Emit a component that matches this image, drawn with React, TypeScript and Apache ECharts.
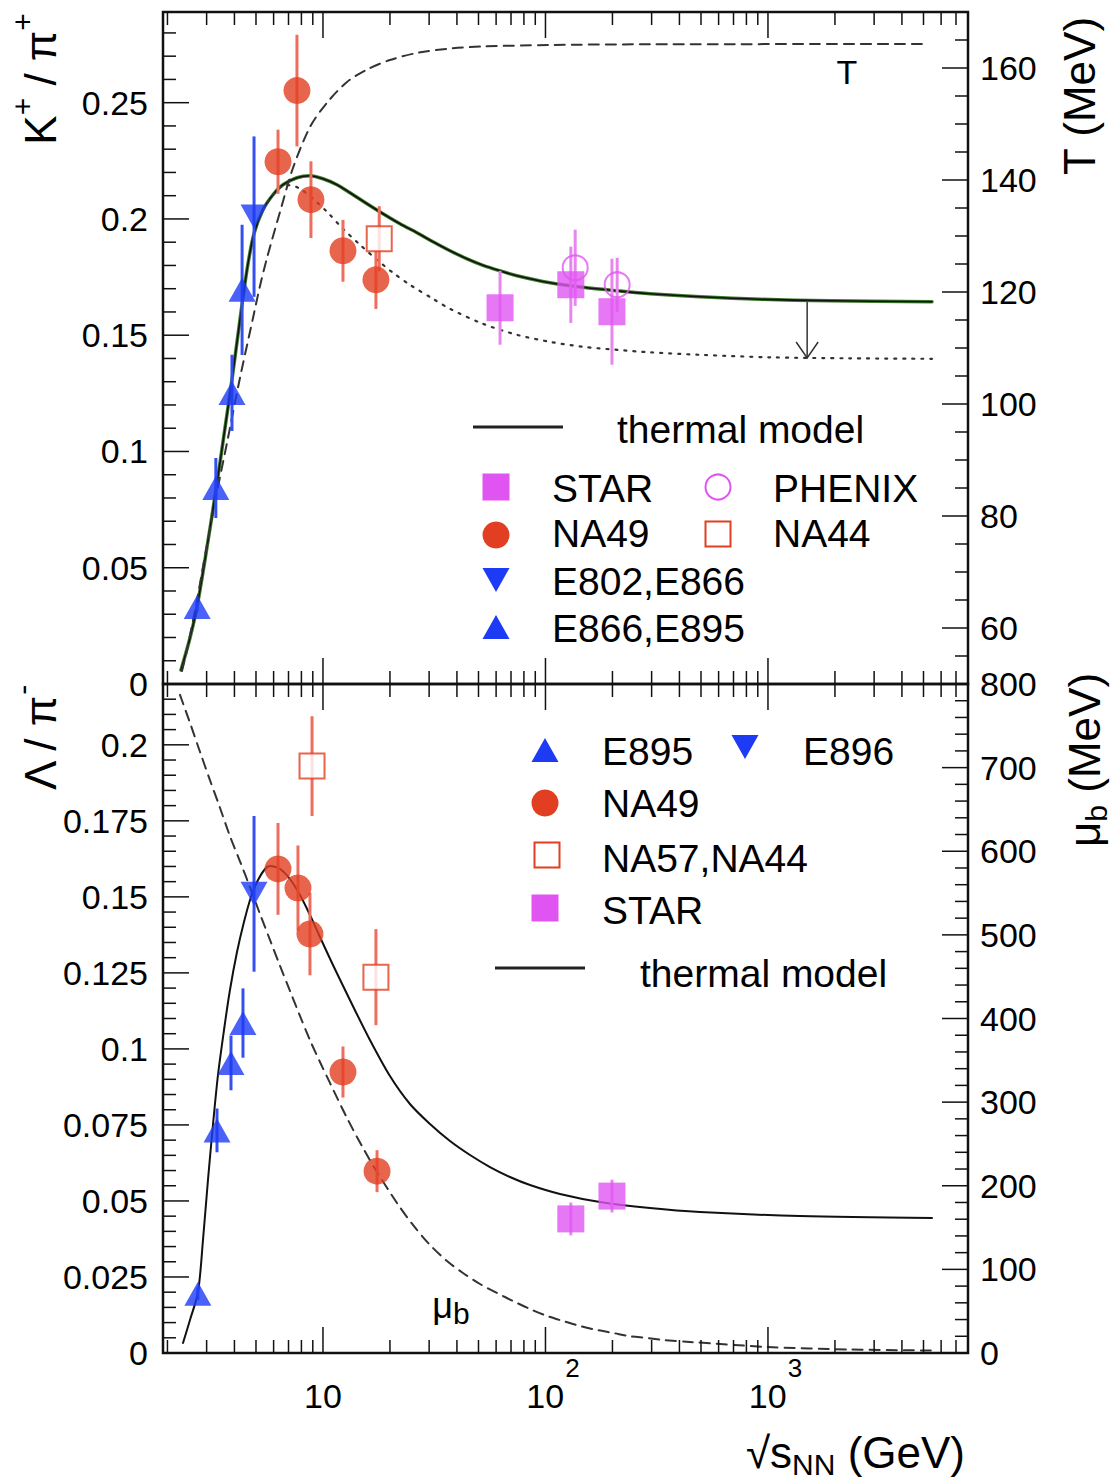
import React, { useEffect, useRef } from 'react';
import * as echarts from 'echarts';

const FONT = '"Liberation Sans", Arial, Helvetica, sans-serif';

// ================= TOP PANEL : K+/pi+ =================
const kE895X = [2.72, 3.3, 3.9, 4.33];
const kE895Y = [0.0331, 0.0843, 0.1252, 0.1695];
const kE895Err = [0.002, 0.0129, 0.0164, 0.028];

const kE802X = [4.9];
const kE802Y = [0.201];
const kE802Err = [0.0345];

const kNA49X = [6.28, 7.64, 8.83, 12.3, 17.3];
const kNA49Y = [0.2246, 0.2552, 0.2083, 0.1863, 0.1738];
const kNA49Err = [0.0138, 0.024, 0.0165, 0.0133, 0.0125];

const kNA44X = [17.9];
const kNA44Y = [0.1915];
const kNA44Err = [0.014];

const kSTARX = [62.5, 130, 199];
const kSTARY = [0.1618, 0.1717, 0.1601];
const kSTARErr = [0.0159, 0.0164, 0.0228];

const kPHENIXX = [136, 210];
const kPHENIXY = [0.179, 0.1717];
const kPHENIXErr = [0.0164, 0.0116];

// thermal model K+/pi+ (solid)
const thermalKX = [2.301, 2.525, 2.715, 2.949, 3.304, 3.591, 3.899, 4.325, 4.602, 4.897, 5.375, 5.962, 6.61, 7.64, 8.743, 10, 11.56, 13.22, 15.77, 18.61, 22.19, 26.45, 31.22, 37.23, 44.39, 52.38, 62.45, 74.46, 104.8, 147.4, 209.6, 294.9, 494.9, 920.4, 1900, 5460];
const thermalKY = [0.00602, 0.01979, 0.03313, 0.05336, 0.08348, 0.10714, 0.13081, 0.16308, 0.18072, 0.19363, 0.20396, 0.21041, 0.21471, 0.21773, 0.21859, 0.2173, 0.21472, 0.21127, 0.20654, 0.20224, 0.19793, 0.19406, 0.19019, 0.18632, 0.18287, 0.18007, 0.17771, 0.17556, 0.17255, 0.17062, 0.1691, 0.16781, 0.16652, 0.16545, 0.16481, 0.16437];

// dotted variant (lower asymptote)
const dottedKX = [5.375, 5.962, 6.61, 7.108, 7.883, 9.018, 10.42, 12.3, 14.67, 17.49, 20.64, 24.6, 31.22, 37.23, 52.38, 74.46, 104.8, 147.4, 209.6, 294.9, 494.9, 1021, 2336, 5460];
const dottedKY = [0.20396, 0.21041, 0.21428, 0.2145, 0.21299, 0.20869, 0.2031, 0.19578, 0.1889, 0.18244, 0.17685, 0.17169, 0.16566, 0.16136, 0.15491, 0.15017, 0.14716, 0.14501, 0.14372, 0.14264, 0.14157, 0.14049, 0.14006, 0.13985];

// temperature T (MeV), right axis, dashed
const tempX = [2.325, 2.448, 2.715, 3.01, 3.339, 3.703, 4.236, 4.848, 5.211, 5.603, 6.409, 7.331, 8.743, 10.42, 12.82, 15.77, 20, 26.45, 37.23, 52.38, 104.8, 294.9, 5184];
const tempY = [52.32, 56.07, 65, 74.82, 84.29, 93.04, 104.64, 115.36, 121.07, 126.07, 134.29, 142.14, 149.46, 153.79, 157.5, 159.73, 161.43, 162.68, 163.48, 163.84, 164.11, 164.23, 164.29];

// arrow from solid to dotted asymptote
const arrowX = [1500];
const arrowFrom = [0.1648];
const arrowTo = [0.1402];

// ================= BOTTOM PANEL : Lambda/pi- =================
const lE895X = [2.74, 3.34, 3.86, 4.37];
const lE895Y = [0.0195, 0.0732, 0.0954, 0.1085];
const lE895Err = [0.002, 0.0072, 0.009, 0.0114];

const lE896X = [4.9];
const lE896Y = [0.151];
const lE896Err = [0.0256];

const lNA49X = [6.28, 7.72, 8.74, 12.3, 17.5];
const lNA49Y = [0.1592, 0.1529, 0.1378, 0.0924, 0.0598];
const lNA49Err = [0.0151, 0.014, 0.0136, 0.0084, 0.0069];

const lNA57X = [8.93, 17.3];
const lNA57Y = [0.193, 0.1236];
const lNA57Err = [0.0164, 0.0158];

const lSTARX = [130, 199];
const lSTARY = [0.0441, 0.0516];
const lSTARErr = [0.0054, 0.0054];

const thermalLX = [2.349, 2.525, 2.744, 2.889, 3.042, 3.203, 3.374, 3.591, 3.819, 4.108, 4.415, 4.747, 5.105, 5.488, 5.779, 6.409, 7.108, 7.883, 8.743, 9.694, 11.09, 13.22, 16.26, 20, 24.6, 30.27, 37.23, 45.8, 56.32, 69.25, 85.2, 116.2, 175.8, 294.9, 494.9, 1392, 5460];
const thermalLY = [0.00329, 0.01085, 0.02006, 0.03716, 0.05689, 0.07498, 0.09142, 0.10622, 0.11937, 0.13186, 0.14173, 0.14995, 0.15554, 0.15916, 0.16014, 0.15916, 0.15587, 0.15061, 0.14403, 0.1368, 0.12759, 0.11608, 0.10293, 0.09109, 0.08188, 0.0753, 0.06971, 0.06511, 0.06116, 0.05788, 0.05524, 0.05229, 0.04965, 0.04768, 0.04637, 0.04505, 0.04439];

// baryon chemical potential mu_b (MeV), right axis, dashed
const muX = [2.277, 2.525, 2.8, 3.105, 3.444, 3.819, 4.236, 4.698, 5.211, 5.779, 6.409, 7.108, 7.883, 8.743, 9.694, 10.75, 12.82, 15.13, 17.49, 21.51, 25.38, 30.27, 36.08, 42.58, 50.77, 60.53, 71.44, 85.2, 101.6, 119.8, 142.9, 170.4, 201.1, 239.8, 285.9, 337.5, 446, 1000, 2336, 5460];
const muY = [787, 753.6, 719, 685, 652, 618, 588, 557, 525, 494, 463, 433, 403, 374, 348, 323, 281.1, 245.2, 216.5, 179.4, 153.1, 129.2, 110, 95.7, 82.5, 71.8, 62.2, 52.6, 44.3, 38.3, 32.3, 27.5, 24, 20, 18, 15.6, 13.2, 7.2, 4.2, 3.0];

// ================= AXES =================
const X_MIN = 1.91;
const X_MAX = 7925;
const K_MAX = 0.289;
const T_MIN = 50;
const T_MAX = 170;
const L_MAX = 0.22;
const MU_MAX = 800;

const xMajorTicks = [10, 100, 1000];
const xMinorMult = [2, 3, 4, 5, 6, 7, 8, 9];
const xDecades = [1, 10, 100, 1000];

// colours
const BLUE = '#1d3bf5';
const BLUE_ERR = '#3550f2';
const RED = '#e23e21';
const RED_ERR = '#ee6e5e';
const MAG = '#e055f2';
const MAG_ERR = '#e886f0';

function stepVals(from: number, to: number, step: number) {
  const out: number[] = [];
  const n = Math.round((to - from) / step);
  for (let i = 0; i <= n; i++) out.push(+(from + i * step).toFixed(6));
  return out;
}
function without(vals: number[], majors: number[]) {
  return vals.filter((v) => !majors.some((m) => Math.abs(m - v) < 1e-9));
}

const MAJ = 26;
const MIN = 13;

function xTickData(yMid: number) {
  const minors: number[] = [];
  xDecades.forEach((d) => xMinorMult.forEach((m) => {
    const v = m * d;
    if (v > X_MIN && v < X_MAX) minors.push(v);
  }));
  return [
    ...xMajorTicks.map((v) => [v, yMid, MAJ, 0]),
    ...minors.map((v) => [v, yMid, MIN, 0]),
  ];
}
function yTickData(majors: number[], minors: number[], kind: number) {
  return [
    ...majors.map((v) => [10, v, MAJ, kind]),
    ...minors.map((v) => [10, v, MIN, kind]),
  ];
}

const tickRender = (params: any, api: any) => {
  const cs = params.coordSys;
  const kind = api.value(3);
  const len = api.value(2);
  const p = api.coord([api.value(0), api.value(1)]);
  const st = { stroke: '#111', lineWidth: 1.5 };
  if (kind === 0) {
    return {
      type: 'group',
      children: [
        { type: 'line', shape: { x1: p[0], y1: cs.y, x2: p[0], y2: cs.y + len }, style: st },
        { type: 'line', shape: { x1: p[0], y1: cs.y + cs.height, x2: p[0], y2: cs.y + cs.height - len }, style: st },
      ],
    };
  }
  if (kind === 1) {
    return { type: 'line', shape: { x1: cs.x, y1: p[1], x2: cs.x + len, y2: p[1] }, style: st };
  }
  return { type: 'line', shape: { x1: cs.x + cs.width, y1: p[1], x2: cs.x + cs.width - len, y2: p[1] }, style: st };
};

function tickSeries(xi: number, yi: number, data: any[]) {
  return {
    type: 'custom', xAxisIndex: xi, yAxisIndex: yi, silent: true, z: 6, clip: false,
    data, encode: { x: 0, y: 1 }, renderItem: tickRender,
  };
}

function lineSeries(xs: number[], ys: number[], xi: number, yi: number, color: string, width: number, type: any, z: number) {
  return {
    type: 'line', xAxisIndex: xi, yAxisIndex: yi, silent: true, z,
    data: xs.map((x, i) => [x, ys[i]]),
    symbol: 'none', showSymbol: false, smooth: 0.3,
    lineStyle: { color, width, type, cap: 'round', join: 'round' },
  };
}

function errSeries(xs: number[], ys: number[], es: number[], xi: number, yi: number, color: string) {
  return {
    type: 'custom', xAxisIndex: xi, yAxisIndex: yi, silent: true, z: 3,
    data: xs.map((x, i) => [x, ys[i], es[i]]),
    encode: { x: 0, y: 1 },
    renderItem: (params: any, api: any) => {
      const x = api.value(0);
      const y = api.value(1);
      const e = api.value(2);
      const a = api.coord([x, y + e]);
      const b = api.coord([x, y - e]);
      return { type: 'line', shape: { x1: a[0], y1: a[1], x2: b[0], y2: b[1] }, style: { stroke: color, lineWidth: 3 } };
    },
  };
}

function markSeries(xs: number[], ys: number[], xi: number, yi: number, symbol: string, itemStyle: any, extra: any = {}) {
  return {
    type: 'scatter', xAxisIndex: xi, yAxisIndex: yi, silent: true, z: 4,
    data: xs.map((x, i) => [x, ys[i]]),
    symbol, symbolSize: 27, itemStyle, ...extra,
  };
}

// ---------- graphic helpers ----------
function txt(x: number, y: number, text: string, size: number, align = 'left') {
  return { type: 'text', x, y, z: 10, style: { text, fontSize: size, fontFamily: FONT, fill: '#000', align, verticalAlign: 'middle' } };
}
function upTri(cx: number, cy: number, color: string) {
  return { type: 'polygon', z: 10, shape: { points: [[cx - 13.5, cy + 12], [cx + 13.5, cy + 12], [cx, cy - 12]] }, style: { fill: color } };
}
function downTri(cx: number, cy: number, color: string) {
  return { type: 'polygon', z: 10, shape: { points: [[cx - 13.5, cy - 12], [cx + 13.5, cy - 12], [cx, cy + 12]] }, style: { fill: color } };
}
function fSquare(cx: number, cy: number, color: string) {
  return { type: 'rect', z: 10, shape: { x: cx - 13.5, y: cy - 13.5, width: 27, height: 27 }, style: { fill: color } };
}
function oSquare(cx: number, cy: number, color: string) {
  return { type: 'rect', z: 10, shape: { x: cx - 12.5, y: cy - 12.5, width: 25, height: 25 }, style: { fill: 'none', stroke: color, lineWidth: 2 } };
}
function fCircle(cx: number, cy: number, color: string) {
  return { type: 'circle', z: 10, shape: { cx, cy, r: 13.5 }, style: { fill: color } };
}
function oCircle(cx: number, cy: number, color: string) {
  return { type: 'circle', z: 10, shape: { cx, cy, r: 12.5 }, style: { fill: 'none', stroke: color, lineWidth: 2 } };
}
function hline(x1: number, x2: number, y: number) {
  return { type: 'line', z: 10, shape: { x1, y1: y, x2, y2: y }, style: { stroke: '#222', lineWidth: 3 } };
}

const titleRich = {
  b: { fontSize: 44, fontFamily: FONT, fill: '#000', padding: [11, 0, 0, 0] },
  s: { fontSize: 30, fontFamily: FONT, fill: '#000', verticalAlign: 'top' },
  sb: { fontSize: 30, fontFamily: FONT, fill: '#000', verticalAlign: 'bottom', padding: [24, 0, 0, 0] },
  m: { fontSize: 44, fontFamily: FONT, fill: '#000' },
};

function buildOption() {
  const baseX = {
    type: 'log', logBase: 10, min: X_MIN, max: X_MAX,
    axisLine: { show: false }, axisTick: { show: false }, splitLine: { show: false }, minorTick: { show: false },
  };
  const labelBase = { fontFamily: FONT, fontSize: 34, color: '#000' };
  const baseY = {
    type: 'value', axisLine: { show: false }, axisTick: { show: false }, splitLine: { show: false }, minorTick: { show: false },
  };

  const kMaj = stepVals(0, 0.25, 0.05);
  const kMin = without(stepVals(0.01, 0.28, 0.01), kMaj);
  const tMaj = stepVals(60, 160, 20);
  const tMin = without(stepVals(55, 165, 5), tMaj);
  const lMaj = stepVals(0, 0.2, 0.025);
  const lMin = without(stepVals(0.005, 0.215, 0.005), lMaj);
  const mMaj = stepVals(0, 800, 100);
  const mMin = without(stepVals(20, 780, 20), mMaj);

  const graphic: any[] = [
    // axis titles
    { type: 'text', x: 35, y: 79, rotation: Math.PI / 2, z: 10, style: { text: '{b|K}{s|+}{b| / π}{s|+}', align: 'center', verticalAlign: 'middle', fontFamily: FONT, fill: '#000', rich: titleRich } },
    { type: 'text', x: 35, y: 738, rotation: Math.PI / 2, z: 10, style: { text: '{b|Λ / π}{s|-}', align: 'center', verticalAlign: 'middle', fontFamily: FONT, fill: '#000', rich: titleRich } },
    { type: 'text', x: 1079, y: 96, rotation: Math.PI / 2, z: 10, style: { text: 'T (MeV)', fontSize: 44, align: 'center', verticalAlign: 'middle', fontFamily: FONT, fill: '#000' } },
    { type: 'text', x: 1084, y: 760, rotation: Math.PI / 2, z: 10, style: { text: '{m|μ}{sb|b}{m| (MeV)}', align: 'center', verticalAlign: 'middle', fontFamily: FONT, fill: '#000', rich: titleRich } },
    { type: 'text', x: 965, y: 1452, z: 10, style: { text: '{m|√s}{sb|NN}{m| (GeV)}', align: 'right', verticalAlign: 'middle', fontFamily: FONT, fill: '#000', rich: titleRich } },
    // curve annotations
    txt(847, 72, 'T', 34, 'center'),
    { type: 'text', x: 451, y: 1305, z: 10, style: { text: '{a|μ}{b|b}', align: 'center', verticalAlign: 'middle', fontFamily: FONT, fill: '#000', rich: { a: { fontSize: 36, fontFamily: FONT, fill: '#000' }, b: { fontSize: 30, fontFamily: FONT, fill: '#000', verticalAlign: 'bottom', padding: [16, 0, 0, 0] } } } },
    // top legend
    hline(473, 563, 427), txt(617, 429, 'thermal model', 39),
    fSquare(496, 487, MAG), txt(552, 488, 'STAR', 39),
    oCircle(718, 487, MAG), txt(773, 488, 'PHENIX', 39),
    fCircle(496, 535, RED), txt(552, 533, 'NA49', 39),
    oSquare(718, 534, RED), txt(773, 533, 'NA44', 39),
    downTri(496, 580, BLUE), txt(552, 581, 'E802,E866', 39),
    upTri(496, 627, BLUE), txt(552, 628, 'E866,E895', 39),
    // bottom legend
    upTri(545, 750, BLUE), txt(602, 751, 'E895', 39),
    downTri(745, 747, BLUE), txt(803, 751, 'E896', 39),
    fCircle(545, 803, RED), txt(602, 803, 'NA49', 39),
    oSquare(547, 855, RED), txt(602, 858, 'NA57,NA44', 39),
    fSquare(545, 908, MAG), txt(602, 910, 'STAR', 39),
    hline(495, 585, 968), txt(640, 973, 'thermal model', 39),
  ];

  const series: any[] = [
    // ---- top curves
    lineSeries(thermalKX, thermalKY, 0, 0, '#3f7d2c', 3.5, 'solid', 2),
    lineSeries(thermalKX, thermalKY, 0, 0, '#111', 1.6, 'solid', 2),
    lineSeries(dottedKX, dottedKY, 0, 0, '#333', 2.2, [2, 7], 2),
    lineSeries(tempX, tempY, 0, 1, '#333', 2, [10, 7], 2),
    {
      type: 'custom', xAxisIndex: 0, yAxisIndex: 0, silent: true, z: 2,
      data: arrowX.map((x, i) => [x, arrowFrom[i], arrowTo[i]]),
      encode: { x: 0, y: [1, 2] },
      renderItem: (params: any, api: any) => {
        const a = api.coord([api.value(0), api.value(1)]);
        const b = api.coord([api.value(0), api.value(2)]);
        const st = { stroke: '#333', lineWidth: 1.5, fill: 'none' };
        return {
          type: 'group', children: [
            { type: 'line', shape: { x1: a[0], y1: a[1], x2: b[0], y2: b[1] }, style: st },
            { type: 'polyline', shape: { points: [[b[0] - 11, b[1] - 16], [b[0], b[1]], [b[0] + 11, b[1] - 16]] }, style: st },
          ],
        };
      },
    },
    // ---- top error bars
    errSeries(kE895X, kE895Y, kE895Err, 0, 0, BLUE_ERR),
    errSeries(kE802X, kE802Y, kE802Err, 0, 0, BLUE_ERR),
    errSeries(kNA49X, kNA49Y, kNA49Err, 0, 0, RED_ERR),
    errSeries(kNA44X, kNA44Y, kNA44Err, 0, 0, RED_ERR),
    errSeries(kPHENIXX, kPHENIXY, kPHENIXErr, 0, 0, MAG_ERR),
    errSeries(kSTARX, kSTARY, kSTARErr, 0, 0, MAG_ERR),
    // ---- top markers
    markSeries(kE895X, kE895Y, 0, 0, 'triangle', { color: BLUE }, { symbolSize: [27, 24] }),
    markSeries(kE802X, kE802Y, 0, 0, 'triangle', { color: BLUE }, { symbolSize: [27, 24], symbolRotate: 180 }),
    markSeries(kNA49X, kNA49Y, 0, 0, 'circle', { color: RED }),
    markSeries(kNA44X, kNA44Y, 0, 0, 'rect', { color: '#fff', borderColor: RED, borderWidth: 2 }, { symbolSize: 25 }),
    markSeries(kPHENIXX, kPHENIXY, 0, 0, 'circle', { color: 'rgba(255,255,255,0)', borderColor: MAG, borderWidth: 2 }, { symbolSize: 25 }),
    markSeries(kSTARX, kSTARY, 0, 0, 'rect', { color: MAG }),
    // ---- bottom curves
    lineSeries(thermalLX, thermalLY, 1, 2, '#111', 2, 'solid', 2),
    lineSeries(muX, muY, 1, 3, '#333', 2, [10, 7], 2),
    // ---- bottom error bars
    errSeries(lE895X, lE895Y, lE895Err, 1, 2, BLUE_ERR),
    errSeries(lE896X, lE896Y, lE896Err, 1, 2, BLUE_ERR),
    errSeries(lNA49X, lNA49Y, lNA49Err, 1, 2, RED_ERR),
    errSeries(lNA57X, lNA57Y, lNA57Err, 1, 2, RED_ERR),
    errSeries(lSTARX, lSTARY, lSTARErr, 1, 2, MAG_ERR),
    // ---- bottom markers
    markSeries(lE895X, lE895Y, 1, 2, 'triangle', { color: BLUE }, { symbolSize: [27, 24] }),
    markSeries(lE896X, lE896Y, 1, 2, 'triangle', { color: BLUE }, { symbolSize: [27, 24], symbolRotate: 180 }),
    markSeries(lNA49X, lNA49Y, 1, 2, 'circle', { color: RED }),
    markSeries(lNA57X, lNA57Y, 1, 2, 'rect', { color: '#fff', borderColor: RED, borderWidth: 2 }, { symbolSize: 25 }),
    markSeries(lSTARX, lSTARY, 1, 2, 'rect', { color: MAG }),
    // ---- frame ticks
    tickSeries(0, 0, [...xTickData(0.1), ...yTickData(kMaj, kMin, 1)]),
    tickSeries(0, 1, yTickData(tMaj, tMin, 2)),
    tickSeries(1, 2, [...xTickData(0.1), ...yTickData(lMaj, lMin, 1)]),
    tickSeries(1, 3, yTickData(mMaj, mMin, 2)),
  ];

  return {
    animation: false,
    backgroundColor: '#fff',
    grid: [
      { left: 163, top: 12, width: 805, height: 672, show: true, borderColor: '#111', borderWidth: 2.5, backgroundColor: 'transparent', outerBoundsMode: 'none', containLabel: false },
      { left: 163, top: 684, width: 805, height: 669, show: true, borderColor: '#111', borderWidth: 2.5, backgroundColor: 'transparent', outerBoundsMode: 'none', containLabel: false },
    ],
    xAxis: [
      { ...baseX, gridIndex: 0, axisLabel: { show: false } },
      {
        ...baseX, gridIndex: 1,
        axisLabel: {
          show: true, margin: 2, ...labelBase, showMinLabel: false, showMaxLabel: false,
          formatter: (v: number) => {
            const l = Math.log10(v);
            const e = Math.round(l);
            if (Math.abs(l - e) > 1e-6) return '';
            if (e === 1) return '{b|10}';
            if (e === 2) return '{p| }{b|10}{s|2}';
            if (e === 3) return '{p| }{b|10}{s|3}';
            return '';
          },
          rich: {
            b: { fontSize: 34, fontFamily: FONT, color: '#000', padding: [24, 0, 0, 0] },
            s: { fontSize: 26, fontFamily: FONT, color: '#000', verticalAlign: 'top', padding: [0, 0, 0, 1] },
            p: { fontSize: 26, width: 15 },
          },
        },
      },
    ],
    yAxis: [
      { ...baseY, gridIndex: 0, position: 'left', min: 0, max: K_MAX, interval: 0.05, axisLabel: { ...labelBase, margin: 15, showMaxLabel: false } },
      {
        ...baseY, gridIndex: 0, position: 'right', min: T_MIN, max: T_MAX, interval: 10,
        axisLabel: { ...labelBase, margin: 12, formatter: (v: number) => (v % 20 === 0 && v >= 60 && v <= 160 ? String(v) : '') },
      },
      { ...baseY, gridIndex: 1, position: 'left', min: 0, max: L_MAX, interval: 0.025, axisLabel: { ...labelBase, margin: 15, showMaxLabel: false } },
      { ...baseY, gridIndex: 1, position: 'right', min: 0, max: MU_MAX, interval: 100, axisLabel: { ...labelBase, margin: 12 } },
    ],
    graphic,
    series,
  };
}

export default function App() {
  const ref = useRef<HTMLDivElement>(null);
  useEffect(() => {
    if (!ref.current) return;
    const chart = echarts.init(ref.current, undefined, { renderer: 'svg' });
    chart.setOption(buildOption() as any);
    return () => chart.dispose();
  }, []);
  return <div ref={ref} style={{ position: 'absolute', left: 0, top: 0, width: 1115, height: 1484 }} />;
}
